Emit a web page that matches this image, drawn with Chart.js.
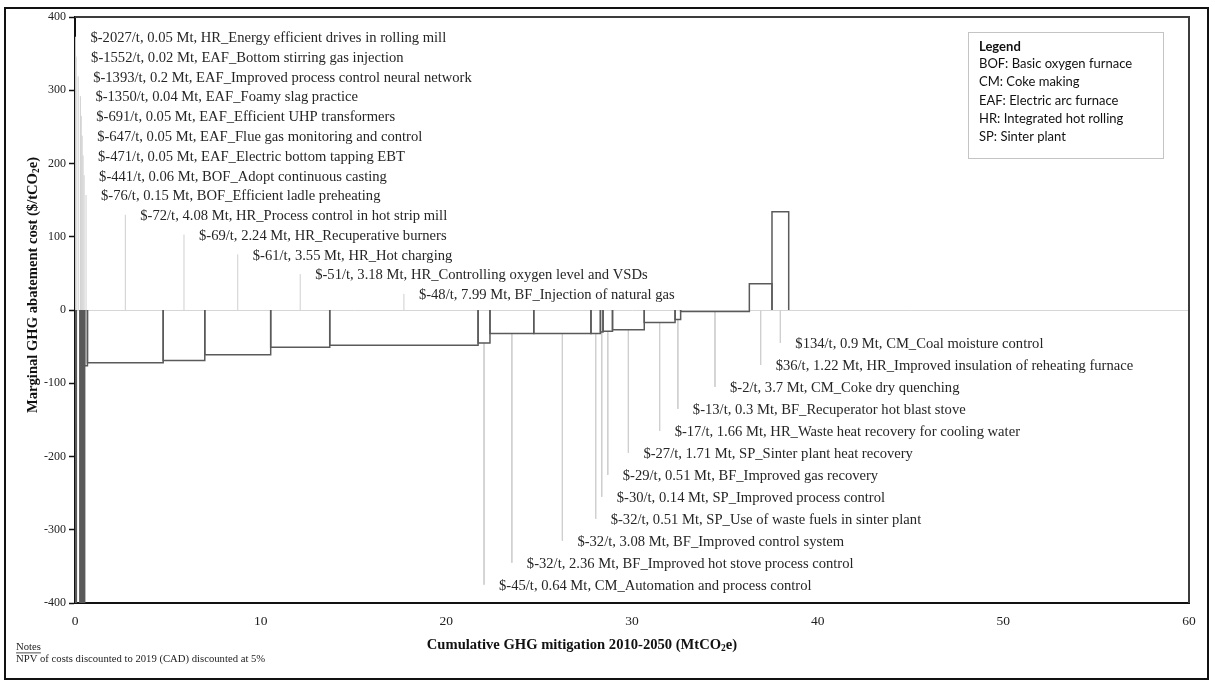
<!DOCTYPE html>
<html>
<head>
<meta charset="utf-8">
<script src="https://cdn.jsdelivr.net/npm/chart.js@4.4.1/dist/chart.umd.min.js"></script>
<style>
  html, body { margin: 0; padding: 0; background: #fff; }
  canvas { display: block; }
</style>
</head>
<body>
<canvas id="macc" width="1215" height="683"></canvas>
<script>
// Abatement measures, sorted by marginal cost
const sectors = ['HR','EAF','EAF','EAF','EAF','EAF','EAF','BOF','BOF','HR','HR','HR','HR','BF',
                 'CM','BF','BF','SP','SP','BF','SP','HR','BF','CM','HR','CM'];
const measures = [
  'Energy efficient drives in rolling mill',
  'Bottom stirring gas injection',
  'Improved process control neural network',
  'Foamy slag practice',
  'Efficient UHP transformers',
  'Flue gas monitoring and control',
  'Electric bottom tapping EBT',
  'Adopt continuous casting',
  'Efficient ladle preheating',
  'Process control in hot strip mill',
  'Recuperative burners',
  'Hot charging',
  'Controlling oxygen level and VSDs',
  'Injection of natural gas',
  'Automation and process control',
  'Improved hot stove process control',
  'Improved control system',
  'Use of waste fuels in sinter plant',
  'Improved process control',
  'Improved gas recovery',
  'Sinter plant heat recovery',
  'Waste heat recovery for cooling water',
  'Recuperator hot blast stove',
  'Coke dry quenching',
  'Improved insulation of reheating furnace',
  'Coal moisture control'
];
// $/tCO2e
const costs = [-2027, -1552, -1393, -1350, -691, -647, -471, -441, -76, -72, -69, -61, -51, -48,
               -45, -32, -32, -32, -30, -29, -27, -17, -13, -2, 36, 134];
// MtCO2e, 2010-2050
const mitigation = [0.05, 0.02, 0.2, 0.04, 0.05, 0.05, 0.05, 0.06, 0.15, 4.08, 2.24, 3.55, 3.18, 7.99,
                    0.64, 2.36, 3.08, 0.51, 0.14, 0.51, 1.71, 1.66, 0.3, 3.7, 1.22, 0.9];
const xTicks = [0, 10, 20, 30, 40, 50, 60];
const yTicks = [-400, -300, -200, -100, 0, 100, 200, 300, 400];
const legendLines = ['BOF: Basic oxygen furnace', 'CM: Coke making', 'EAF: Electric arc furnace',
                     'HR: Integrated hot rolling', 'SP: Sinter plant'];

// ---- derived geometry (data units) ----
const starts = [], ends = [];
mitigation.reduce((acc, w, i) => { starts[i] = acc; ends[i] = acc + w; return acc + w; }, 0);
const centers = starts.map((s, i) => (s + ends[i]) / 2);
const labelText = costs.map((c, i) => `$${c}/t, ${mitigation[i]} Mt, ${sectors[i]}_${measures[i]}`);

// label slots: first 14 stacked above the zero line, the rest below
const TOP_COUNT = 14;
const slotY = i => i < TOP_COUNT ? 373 - 27 * i : -45 - 30 * (costs.length - 1 - i);

const barSets = costs.map((c, i) => ({
  data: [{x: starts[i], y: 0}, {x: starts[i], y: c}, {x: ends[i], y: c}, {x: ends[i], y: 0}],
  borderColor: '#5a5a5a', borderWidth: 1.5, pointRadius: 0, fill: false, tension: 0, order: 0
}));
const leaderSets = costs.map((c, i) => ({
  data: [{x: centers[i], y: i < TOP_COUNT ? 0 : Math.min(c, 0)}, {x: centers[i], y: slotY(i)}],
  borderColor: '#cfcfcf', borderWidth: 1, pointRadius: 0, fill: false, order: 1
}));

const SERIF = '"Liberation Serif", "Times New Roman", serif';
const LABEL_SIZE = 14.6;

function squeezed(ctx, s, x, y, sx) {
  ctx.save(); ctx.translate(x, y); ctx.scale(sx, 1); ctx.fillText(s, 0, 0); ctx.restore();
}
// bold text with a subscripted "2" in CO2e, centred on (x, y)
function co2Width(ctx, pre, post, size) {
  ctx.save();
  ctx.font = `bold ${size}px ${SERIF}`;
  const w = ctx.measureText(pre).width + ctx.measureText(post).width;
  ctx.font = `bold ${size * 0.65}px ${SERIF}`;
  const w2 = ctx.measureText('2').width;
  ctx.restore();
  return w + w2;
}
function co2Text(ctx, pre, post, x, y, size) {
  ctx.save();
  ctx.translate(x, y);
  ctx.textAlign = 'left'; ctx.textBaseline = 'middle';
  let cx = -co2Width(ctx, pre, post, size) / 2;
  ctx.font = `bold ${size}px ${SERIF}`;
  ctx.fillText(pre, cx, 0); cx += ctx.measureText(pre).width;
  ctx.font = `bold ${size * 0.65}px ${SERIF}`;
  ctx.fillText('2', cx, size * 0.25); cx += ctx.measureText('2').width;
  ctx.font = `bold ${size}px ${SERIF}`;
  ctx.fillText(post, cx, 0);
  ctx.restore();
}

const decor = {
  id: 'decor',
  beforeDraw(chart) {
    const {ctx, width, height} = chart;
    ctx.save(); ctx.fillStyle = '#fff'; ctx.fillRect(0, 0, width, height); ctx.restore();
  },
  afterDatasetsDraw(chart) {
    const {ctx, chartArea: a, scales: {x, y}} = chart;
    ctx.save();
    // upper and right plot border
    ctx.strokeStyle = '#3c3c3c'; ctx.lineWidth = 2;
    ctx.beginPath(); ctx.moveTo(a.left, a.top); ctx.lineTo(a.right, a.top); ctx.lineTo(a.right, a.bottom); ctx.stroke();
    // measure labels next to their leader lines
    ctx.font = `${LABEL_SIZE}px ${SERIF}`; ctx.fillStyle = '#262626'; ctx.textBaseline = 'middle'; ctx.textAlign = 'left';
    labelText.forEach((t, i) => {
      ctx.fillText(t, x.getPixelForValue(centers[i]) + 15, y.getPixelForValue(slotY(i)) + 1.5);
    });
    ctx.restore();
  },
  afterDraw(chart) {
    const {ctx, width, height, chartArea: a} = chart;
    ctx.save();
    // outer frame
    ctx.strokeStyle = '#111'; ctx.lineWidth = 2;
    ctx.strokeRect(5, 8, width - 7 - 5, height - 4 - 8);
    // axis titles
    ctx.fillStyle = '#111';
    const xt = ['Cumulative GHG mitigation 2010-2050 (MtCO', 'e)'];
    co2Text(ctx, xt[0], xt[1], (a.left + a.right) / 2 - 50, a.bottom + 42, 14.6);
    const yt = ['Marginal GHG abatement cost ($/tCO', 'e)'];
    const yLen = co2Width(ctx, yt[0], yt[1], 14.6);
    ctx.save();
    ctx.translate(33, a.bottom - 190 - yLen / 2); ctx.rotate(-Math.PI / 2);
    co2Text(ctx, yt[0], yt[1], 0, 0, 14.6);
    ctx.restore();
    // notes
    ctx.textAlign = 'left'; ctx.textBaseline = 'middle';
    ctx.font = `11px ${SERIF}`; ctx.fillStyle = '#222';
    squeezed(ctx, 'Notes', 16, 647, 0.97);
    ctx.fillRect(16, 652.5, ctx.measureText('Notes').width * 0.97, 0.8);
    squeezed(ctx, 'NPV of costs discounted to 2019 (CAD) discounted at 5%', 16, 659.5, 0.97);
    // sector legend box
    const lx = a.right - 221, ly = a.top + 15;
    ctx.strokeStyle = '#c4c4c4'; ctx.lineWidth = 1;
    ctx.strokeRect(lx + 0.5, ly + 0.5, 195, 126);
    ctx.fillStyle = '#111';
    ctx.font = `bold 13px Lato, "Open Sans", sans-serif`;
    ctx.fillText('Legend', lx + 11, ly + 15);
    ctx.font = `13px Lato, "Open Sans", sans-serif`;
    legendLines.forEach((t, i) => ctx.fillText(t, lx + 11, ly + 32 + 18.2 * i));
    ctx.restore();
  }
};

new Chart(document.getElementById('macc'), {
  type: 'line',
  data: { datasets: [...barSets, ...leaderSets] },
  options: {
    responsive: false,
    animation: false,
    events: [],
    layout: { padding: { top: 17, right: 26, bottom: 0, left: 0 } },
    plugins: { legend: { display: false }, tooltip: { enabled: false } },
    scales: {
      x: {
        type: 'linear', min: xTicks[0], max: xTicks[xTicks.length - 1],
        afterBuildTicks: s => { s.ticks = xTicks.map(v => ({value: v})); },
        afterFit: s => { s.height = 80; },
        grid: { display: true, drawOnChartArea: false, drawTicks: false },
        border: { display: true, color: '#111', width: 2 },
        ticks: { color: '#222', padding: 10, maxRotation: 0, font: { family: SERIF, size: 13.5 } }
      },
      y: {
        type: 'linear', min: yTicks[0], max: yTicks[yTicks.length - 1],
        afterBuildTicks: s => { s.ticks = yTicks.map(v => ({value: v})); },
        afterFit: s => { s.width = 75; },
        grid: {
          display: true, drawOnChartArea: true, drawTicks: true, tickLength: 6,
          color: c => c.tick && c.tick.value === 0 ? '#d6d6d6' : 'rgba(0,0,0,0)',
          tickColor: '#111', tickWidth: 1.5
        },
        border: { display: true, color: '#111', width: 2 },
        ticks: { color: '#222', padding: 3, font: { family: SERIF, size: 12 } }
      }
    }
  },
  plugins: [decor]
});
</script>
</body>
</html>
